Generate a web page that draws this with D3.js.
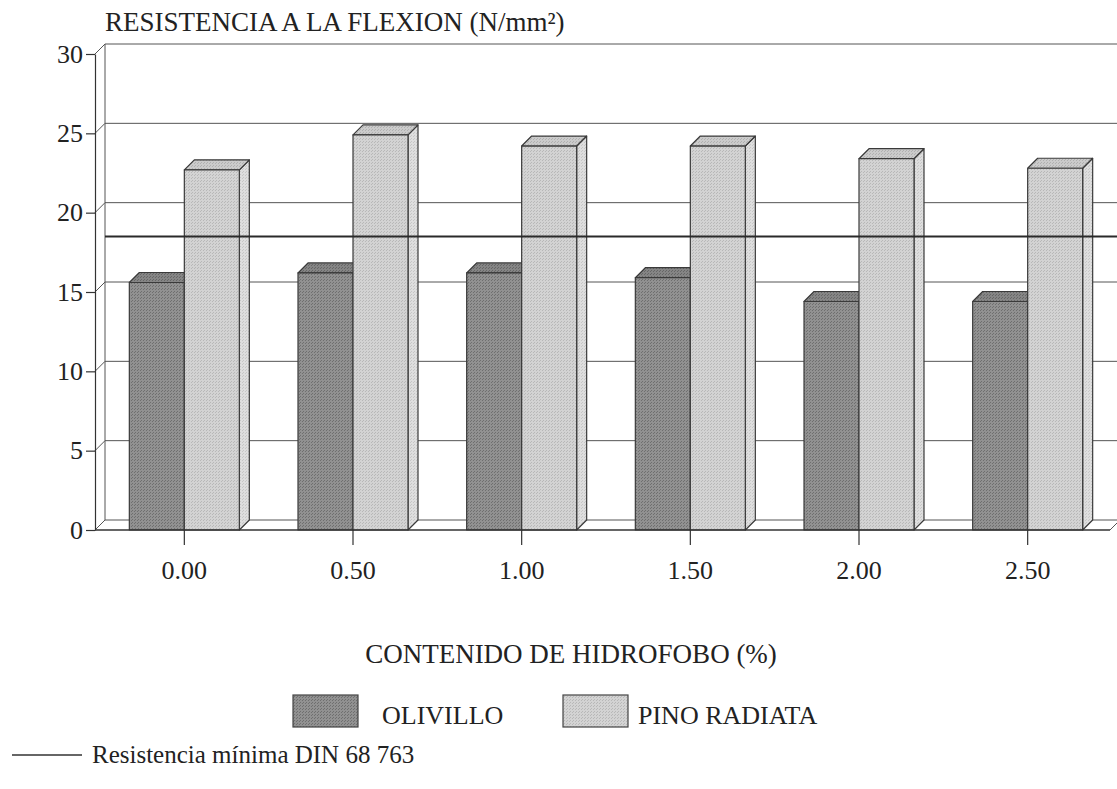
<!DOCTYPE html>
<html lang="es">
<head>
    <meta charset="UTF-8">
    <title>Resistencia a la flexion</title>
    <script src="https://cdn.jsdelivr.net/npm/d3@7"></script>
    <style>
        body { margin: 0; background: #fff; }
        text { font-family: "Liberation Serif", "Times New Roman", serif; fill: #222; }
    </style>
</head>
<body>
<script>
    // datos
    var categories = ["0.00", "0.50", "1.00", "1.50", "2.00", "2.50"];
    var olivillo = [15.6, 16.2, 16.2, 15.9, 14.4, 14.4];
    var pino = [22.7, 24.9, 24.2, 24.2, 23.4, 22.8];
    var minimaDin = 18.5;
    var yTicks = [0, 5, 10, 15, 20, 25, 30];
    var seriesNames = ["OLIVILLO", "PINO RADIATA"];

    var width = 1117, height = 789;
    var plotLeft = 95, plotRight = 1110, plotBottom = 530, plotTop = 54;
    var dx = 10, dy = -10;       // profundidad 3D

    var svg = d3.select("body").append("svg")
        .attr("width", width)
        .attr("height", height);

    // texturas de puntos para imitar el tramado
    var defs = svg.append("defs");
    function makePattern(id, base, dot) {
        var p = defs.append("pattern").attr("id", id)
            .attr("width", 3).attr("height", 3)
            .attr("patternUnits", "userSpaceOnUse");
        p.append("rect").attr("width", 3).attr("height", 3).attr("fill", base);
        p.append("rect").attr("x", 0).attr("y", 0).attr("width", 1).attr("height", 1).attr("fill", dot);
        p.append("rect").attr("x", 2).attr("y", 1).attr("width", 1).attr("height", 1).attr("fill", dot);
    }
    makePattern("pOli", "#919191", "#6f6f6f");
    makePattern("pOliTop", "#858585", "#666");
    makePattern("pPino", "#d3d3d3", "#b8b8b8");
    makePattern("pPinoSide", "#dedede", "#c6c6c6");
    makePattern("pPinoTop", "#cbcbcb", "#b0b0b0");

    var y = d3.scaleLinear().domain([0, 30]).range([plotBottom, plotTop]);
    var x = d3.scaleBand().domain(categories).range([100, 1112]);

    // pared de fondo y lineas de grilla
    var grid = svg.append("g").attr("stroke", "#555").attr("stroke-width", 1);
    grid.selectAll(".grid")
        .data(yTicks.filter(function (d) { return d > 0; }))
        .enter().append("line")
        .attr("x1", plotLeft + dx).attr("x2", width)
        .attr("y1", function (d) { return y(d) + dy; })
        .attr("y2", function (d) { return y(d) + dy; });
    // pared izquierda
    grid.append("line").attr("x1", plotLeft + dx).attr("x2", plotLeft + dx)
        .attr("y1", y(30) + dy).attr("y2", y(0) + dy);
    grid.selectAll(".diag")
        .data(yTicks)
        .enter().append("line")
        .attr("x1", plotLeft).attr("x2", plotLeft + dx)
        .attr("y1", function (d) { return y(d); })
        .attr("y2", function (d) { return y(d) + dy; });
    // piso
    grid.append("line").attr("x1", plotLeft + dx).attr("x2", width)
        .attr("y1", y(0) + dy).attr("y2", y(0) + dy);
    grid.append("line").attr("x1", plotRight).attr("x2", plotRight + dx)
        .attr("y1", y(0)).attr("y2", y(0) + dy);

    // barras 3D
    var barW = 55;
    function bar3d(g, x0, v, front, side, topFill) {
        var yt = y(v), yb = y(0);
        var line = g.append("g").attr("stroke", "#3a3a3a").attr("stroke-width", 1.2)
            .attr("stroke-linejoin", "round");
        line.append("path")
            .attr("d", "M" + (x0 + barW) + "," + yb + "L" + (x0 + barW + dx) + "," + (yb + dy) +
                "L" + (x0 + barW + dx) + "," + (yt + dy) + "L" + (x0 + barW) + "," + yt + "Z")
            .attr("fill", side);
        line.append("path")
            .attr("d", "M" + x0 + "," + yt + "L" + (x0 + dx) + "," + (yt + dy) +
                "L" + (x0 + barW + dx) + "," + (yt + dy) + "L" + (x0 + barW) + "," + yt + "Z")
            .attr("fill", topFill);
        line.append("rect")
            .attr("x", x0).attr("y", yt)
            .attr("width", barW).attr("height", yb - yt)
            .attr("fill", front);
    }

    var bars = svg.append("g");
    categories.forEach(function (c, i) {
        var cx = x(c) + x.bandwidth() / 2;
        bar3d(bars, cx - barW, olivillo[i], "url(#pOli)", "url(#pOli)", "url(#pOliTop)");
        bar3d(bars, cx, pino[i], "url(#pPino)", "url(#pPinoSide)", "url(#pPinoTop)");
    });

    // linea frontal del piso
    svg.append("line").attr("x1", plotLeft).attr("x2", plotRight)
        .attr("y1", y(0)).attr("y2", y(0))
        .attr("stroke", "#333").attr("stroke-width", 1.3);

    // resistencia minima DIN 68 763
    svg.append("line")
        .attr("x1", plotLeft + dx).attr("x2", width)
        .attr("y1", y(minimaDin)).attr("y2", y(minimaDin))
        .attr("stroke", "#2a2a2a").attr("stroke-width", 2);

    // ejes
    var axisY = d3.axisLeft(y).tickValues(yTicks).tickSize(9).tickSizeOuter(0).tickPadding(3);
    var gy = svg.append("g").attr("transform", "translate(" + plotLeft + ",0)").call(axisY);
    gy.selectAll("text").style("font-family", "Liberation Serif").style("font-size", "26px").attr("fill", "#222");
    gy.selectAll("line, path").attr("stroke", "#333").attr("stroke-width", 1.2);

    var axisX = d3.axisBottom(x).tickSize(15).tickPadding(16);
    var gx = svg.append("g").attr("transform", "translate(0," + plotBottom + ")").call(axisX);
    gx.select(".domain").remove();
    gx.selectAll("line").attr("stroke", "#333").attr("stroke-width", 1.2);
    gx.selectAll("text").style("font-family", "Liberation Serif").style("font-size", "26px").attr("fill", "#222");

    // titulos
    svg.append("text").attr("x", 105).attr("y", 31)
        .style("font-size", "27px")
        .text("RESISTENCIA A LA FLEXION (N/mm²)");
    svg.append("text").attr("x", 571).attr("y", 663)
        .attr("text-anchor", "middle")
        .style("font-size", "27px")
        .text("CONTENIDO DE HIDROFOBO (%)");

    // leyenda
    var legend = [
        {name: seriesNames[0], fill: "url(#pOli)", x: 293, tx: 382},
        {name: seriesNames[1], fill: "url(#pPino)", x: 563, tx: 638}
    ];
    var lg = svg.append("g").selectAll("g").data(legend).enter().append("g");
    lg.append("rect")
        .attr("x", function (d) { return d.x; }).attr("y", 695)
        .attr("width", 65).attr("height", 32)
        .attr("fill", function (d) { return d.fill; })
        .attr("stroke", "#444").attr("stroke-width", 1.2);
    lg.append("text")
        .attr("x", function (d) { return d.tx; }).attr("y", 724)
        .style("font-size", "26px")
        .text(function (d) { return d.name; });

    svg.append("line").attr("x1", 12).attr("x2", 82)
        .attr("y1", 755).attr("y2", 755)
        .attr("stroke", "#333").attr("stroke-width", 1.5);
    svg.append("text").attr("x", 92).attr("y", 763)
        .style("font-size", "25px")
        .text("Resistencia mínima DIN 68 763");
</script>
</body>
</html>
